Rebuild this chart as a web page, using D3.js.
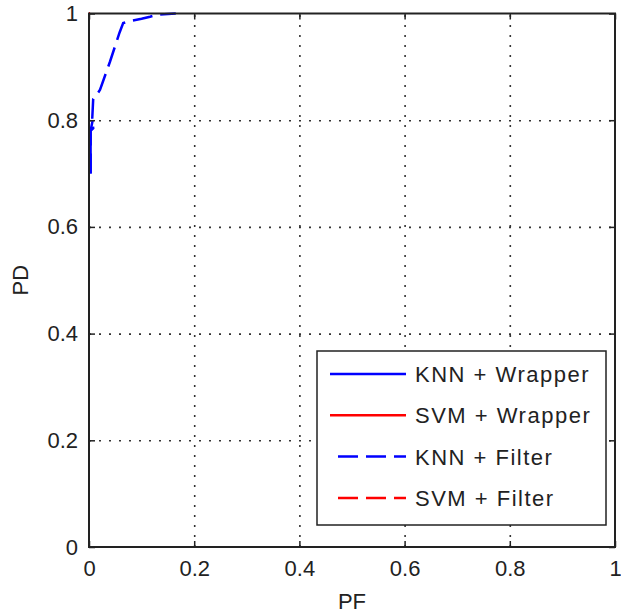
<!DOCTYPE html>
<meta charset="utf-8">
<style>
body { margin: 0; background: #fff; }
text { font-family: Arial, "Liberation Sans", sans-serif; fill: #222; }
.grid line { stroke: #333; stroke-width: 1.6; stroke-dasharray: 2,8; }
.grid path { display: none; }
.axis path { display: none; }
.axis line { stroke: #222; stroke-width: 1.5; }
</style>
<body>
<script src="https://d3js.org/d3.v7.min.js"></script>
<script>

// tick values and labels
var xTicks = [0, 0.2, 0.4, 0.6, 0.8, 1];
var yTicks = [0, 0.2, 0.4, 0.6, 0.8, 1];
var xLabel = "PF", yLabel = "PD";

// series names (legend order)
var seriesNames = ["KNN + Wrapper", "SVM + Wrapper", "KNN + Filter", "SVM + Filter"];

// curve values [PF, PD]
var knnWrapper = [[0.003, 0.70], [0.003, 0.78], [0.007, 0.80]];
var svmWrapper = [[0, 1], [0.002, 1]];
var knnFilter = [[0.003, 0.70], [0.003, 0.78], [0.008, 0.785], [0.006, 0.80], [0.008, 0.84],
                 [0.013, 0.845], [0.021, 0.857], [0.040, 0.91], [0.058, 0.964], [0.065, 0.982],
                 [0.078, 0.986], [0.10, 0.99], [0.116, 0.994], [0.129, 0.998], [0.165, 1]];
var svmFilter = [[0, 1], [0.002, 1]];

var colors = ["#0000ff", "#ff0000", "#0000ff", "#ff0000"];
var dashes = [null, null, "20,8", "20,8"];
var allSeries = [knnWrapper, svmWrapper, knnFilter, svmFilter];

var margin = {top: 13.5, right: 6, bottom: 69, left: 89},
    width = 621 - margin.left - margin.right,
    height = 616 - margin.top - margin.bottom;

var x = d3.scaleLinear().domain([0, 1]).range([0, width]);
var y = d3.scaleLinear().domain([0, 1]).range([height, 0]);

var svg = d3.select("body").append("svg")
    .attr("width", 621)
    .attr("height", 616)
  .append("g")
    .attr("transform", "translate(" + margin.left + "," + margin.top + ")");

// dotted grid
svg.append("g")
    .attr("class", "grid")
    .call(d3.axisLeft(y).tickValues(yTicks.slice(1, -1)).tickSize(-width).tickFormat(""));
svg.append("g")
    .attr("class", "grid")
    .attr("transform", "translate(0," + height + ")")
    .call(d3.axisBottom(x).tickValues(xTicks.slice(1, -1)).tickSize(-height).tickFormat(""));

// curves
var line = d3.line()
    .x(function(d) { return x(d[0]); })
    .y(function(d) { return y(d[1]); });

allSeries.forEach(function(s, i) {
  svg.append("path")
      .datum(s)
      .attr("fill", "none")
      .attr("stroke", colors[i])
      .attr("stroke-width", 2.5)
      .attr("stroke-dasharray", dashes[i])
      .attr("d", line);
});

// axes with inward ticks on all four sides
var fmt = function(d) { return d3.format("")(d); };
svg.append("g")
    .attr("class", "axis")
    .attr("transform", "translate(0," + height + ")")
    .call(d3.axisBottom(x).tickValues(xTicks).tickSize(-6).tickPadding(13).tickFormat(fmt))
    .selectAll("text").style("font-size", "22px").style("fill", "#222");
svg.append("g")
    .attr("class", "axis")
    .call(d3.axisLeft(y).tickValues(yTicks).tickSize(-6).tickPadding(11).tickFormat(fmt))
    .selectAll("text").style("font-size", "22px").style("fill", "#222");
svg.append("g")
    .attr("class", "axis")
    .call(d3.axisTop(x).tickValues(xTicks).tickSize(-6).tickFormat(""));
svg.append("g")
    .attr("class", "axis")
    .attr("transform", "translate(" + width + ",0)")
    .call(d3.axisRight(y).tickValues(yTicks).tickSize(-6).tickFormat(""));

// box
svg.append("rect")
    .attr("width", width)
    .attr("height", height)
    .attr("fill", "none")
    .attr("stroke", "#222")
    .attr("stroke-width", 2);

// axis titles
svg.append("text")
    .attr("x", width / 2)
    .attr("y", height + 62)
    .attr("text-anchor", "middle")
    .style("font-size", "22px")
    .text(xLabel);
svg.append("text")
    .attr("transform", "rotate(-90)")
    .attr("x", -height / 2)
    .attr("y", -61)
    .attr("text-anchor", "middle")
    .style("font-size", "22px")
    .text(yLabel);

// legend
var legend = svg.append("g")
    .attr("transform", "translate(" + (317 - margin.left) + "," + (351 - margin.top) + ")");
legend.append("rect")
    .attr("width", 289)
    .attr("height", 174)
    .attr("fill", "#fff")
    .attr("stroke", "#222")
    .attr("stroke-width", 1.5);
seriesNames.forEach(function(name, i) {
  var ly = 23 + i * 41.3;
  legend.append("line")
      .attr("x1", 13).attr("x2", 89)
      .attr("y1", ly).attr("y2", ly)
      .attr("stroke", colors[i])
      .attr("stroke-width", 2.5)
      .attr("stroke-dasharray", dashes[i])
      .attr("stroke-dashoffset", dashes[i] ? 20 : null);
  legend.append("text")
      .attr("x", 98)
      .attr("y", ly)
      .attr("dy", "0.36em")
      .style("font-size", "22px")
      .style("letter-spacing", "1.5px")
      .text(name);
});

</script>
</body>
